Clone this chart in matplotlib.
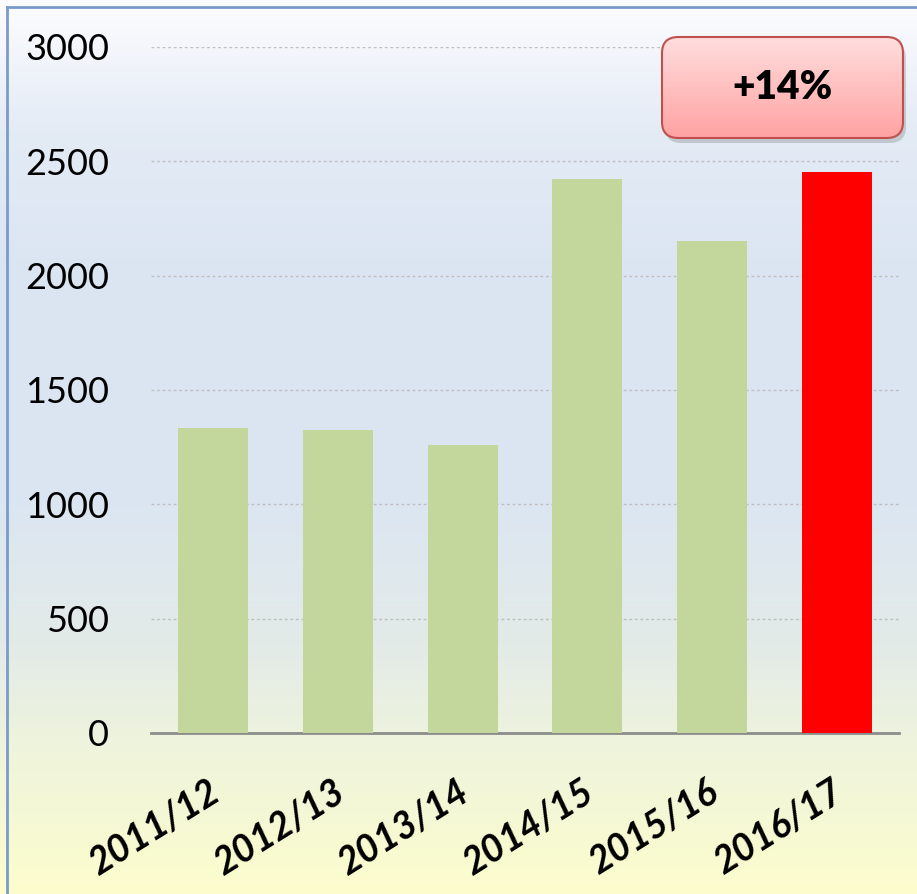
"""Bar chart of yearly totals with a +14% callout."""

import matplotlib
matplotlib.use("Agg")
import matplotlib.pyplot as plt
import numpy as np
from matplotlib.colors import LinearSegmentedColormap
from matplotlib.patches import FancyBboxPatch
from matplotlib.transforms import ScaledTranslation

seasons = ["2011/12", "2012/13", "2013/14", "2014/15", "2015/16", "2016/17"]
totals = [1332, 1325, 1260, 2423, 2150, 2453]
bar_colors = ["#C3D69B"] * 5 + ["#FF0000"]
y_ticks = [0, 500, 1000, 1500, 2000, 2500, 3000]
callout = "+14%"

plt.rcParams["font.family"] = ["Lato", "DejaVu Sans"]

W, H = 917, 894
fig = plt.figure(figsize=(W / 100, H / 100), dpi=100)

# background gradient
bg = fig.add_axes([0, 0, 1, 1], zorder=0)
bg_cmap = LinearSegmentedColormap.from_list("bg", [
    (0.0, (0.99, 0.99, 1.0)),
    (0.15, (0.89, 0.92, 0.96)),
    (0.30, (0.86, 0.90, 0.95)),
    (0.55, (0.86, 0.90, 0.95)),
    (0.72, (0.89, 0.92, 0.91)),
    (0.85, (0.94, 0.96, 0.86)),
    (1.0, (0.99, 0.99, 0.80)),
])
grad = np.linspace(0, 1, 256).reshape(-1, 1)
bg.imshow(grad, aspect="auto", cmap=bg_cmap, extent=[0, 1, 0, 1], origin="upper")
bg.plot([7 / W, 7 / W], [0, 1 - 7 / H], color="#7A9CCB", lw=2)
bg.plot([7 / W, 1], [1 - 7 / H, 1 - 7 / H], color="#7A9CCB", lw=2)
bg.set_xlim(0, 1)
bg.set_ylim(0, 1)
bg.axis("off")

ax = fig.add_axes([151 / W, 1 - 733 / H, (899 - 151) / W, (733 - 47) / H], zorder=1)
ax.patch.set_alpha(0)
x = np.arange(len(seasons))
ax.bar(x, totals, width=0.56, color=bar_colors, zorder=3)
ax.set_xlim(-0.5, len(seasons) - 0.5)
ax.set_ylim(0, 3000)
ax.set_yticks(y_ticks)
ax.set_yticklabels([str(v) for v in y_ticks], fontsize=26)
ax.tick_params(axis="y", length=0, pad=30)
ax.set_xticks([])
ax.grid(axis="y", color="#BFBFBF", linestyle=(0, (2, 2)), lw=1, zorder=1)
for side in ["top", "right", "left"]:
    ax.spines[side].set_visible(False)
ax.spines["bottom"].set_color("#8C8C8C")
ax.spines["bottom"].set_linewidth(2)

offset = ScaledTranslation(-6 / 100, -41 / 100, fig.dpi_scale_trans)
for xi, label in zip(x, seasons):
    ax.text(xi, 0, label, transform=ax.get_xaxis_transform() + offset,
            rotation=32, ha="right", va="top", rotation_mode="anchor",
            fontsize=27, fontweight="bold", fontstyle="italic")

# callout box with gradient fill and shadow
bx0, by0, bx1, by1 = 662 / W, 1 - 138 / H, 903 / W, 1 - 37 / H
style = "round,pad=0,rounding_size=0.018"
box_cmap = LinearSegmentedColormap.from_list("box", ["#FFDEDE", "#FFA2A2"])
box_ax = fig.add_axes([0, 0, 1, 1], zorder=5)
box_ax.set_xlim(0, 1)
box_ax.set_ylim(0, 1)
box_ax.axis("off")
box_ax.add_patch(FancyBboxPatch((bx0 + 3 / W, by0 - 5 / H), bx1 - bx0, by1 - by0,
                                boxstyle=style, fc=(0, 0, 0, 0.15), ec="none",
                                zorder=1))
img = box_ax.imshow(grad, aspect="auto", cmap=box_cmap,
                    extent=[bx0, bx1, by0, by1], origin="upper", zorder=2)
clip = FancyBboxPatch((bx0, by0), bx1 - bx0, by1 - by0, boxstyle=style,
                      transform=box_ax.transData, fc="none", ec="none")
img.set_clip_path(clip)
box_ax.add_patch(FancyBboxPatch((bx0, by0), bx1 - bx0, by1 - by0,
                                boxstyle=style, fc="none", ec="#C0504D",
                                lw=1.5, zorder=3))
box_ax.text((bx0 + bx1) / 2, (by0 + by1) / 2, callout, ha="center", va="center",
            fontsize=28, fontweight="heavy", zorder=4)
box_ax.set_xlim(0, 1)
box_ax.set_ylim(0, 1)

fig.savefig("out.png", dpi=100)
